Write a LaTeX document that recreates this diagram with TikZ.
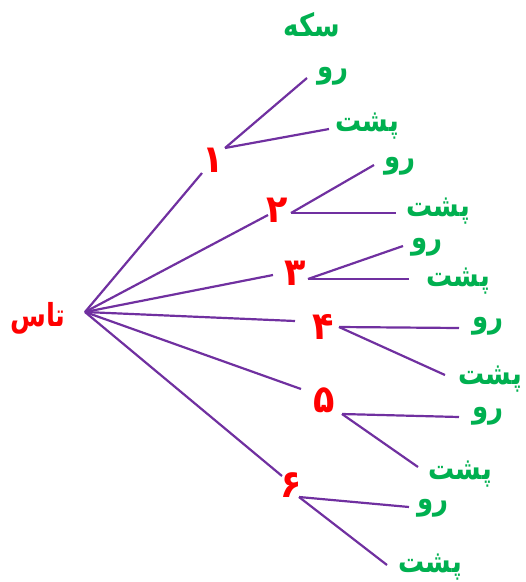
\documentclass[tikz,border=0pt]{standalone}
\usepackage{fontspec}
\usepackage{graphicx}
\newfontfamily\farsi[Script=Arabic]{DejaVu Sans}
\TeXXeTstate=1
\definecolor{leafgreen}{RGB}{0,176,80}
\definecolor{facered}{RGB}{255,0,0}
\definecolor{branchpurple}{RGB}{112,48,160}
\newcommand{\fa}[2][1.22]{\scalebox{1}[#1]{\beginR #2\endR}}

\begin{document}
\begin{tikzpicture}[x=1pt, y=-1pt,
  font=\farsi\bfseries,
  face/.style={text=facered, inner sep=0pt, font=\fontsize{35}{40}\selectfont\farsi\bfseries},
  leaf/.style={text=leafgreen, inner sep=0pt, font=\fontsize{26}{30}\selectfont\farsi\bfseries},
  branch/.style={draw=branchpurple, line width=2.2pt}]
\useasboundingbox (0,0) rectangle (526,582);
% die and coin titles
\node[face, font=\fontsize{26}{30}\selectfont\farsi\bfseries] (die) at (38,318) {\fa{تاس}};
\node[leaf] (coin) at (312,25) {\fa{سکه}};
\coordinate (root) at (85,312);
% die faces
\node[face] (f1) at (213,160) {\fa[1.1]{۱}};
\node[face] (f2) at (277,210) {\fa[1.1]{۲}};
\node[face] (f3) at (295,273) {\fa[1.1]{۳}};
\node[face] (f4) at (323,327) {\fa[1.1]{۴}};
\node[face] (f5) at (324,400) {\fa[1.1]{۵}};
\node[face] (f6) at (291,485) {\fa[1.1]{۶}};
\coordinate (f1in) at (202,173); \coordinate (f1out) at (225,148);
\coordinate (f2in) at (268,215); \coordinate (f2out) at (291,213);
\coordinate (f3in) at (273,275); \coordinate (f3out) at (308,279);
\coordinate (f4in) at (295,321); \coordinate (f4out) at (339,327);
\coordinate (f5in) at (301,389); \coordinate (f5out) at (342,414);
\coordinate (f6in) at (282,476); \coordinate (f6out) at (299,497);
\foreach \f in {1,...,6}
  \draw[branch] (root) -- (f\f in);
% coin sides for each face
\node[leaf] (h1) at (333,76) {\fa{رو}};
\node[leaf] (t1) at (367,126) {\fa{پشت}};
\node[leaf] (h2) at (400,166) {\fa{رو}};
\node[leaf] (t2) at (438,211) {\fa{پشت}};
\node[leaf] (h3) at (427,247) {\fa{رو}};
\node[leaf] (t3) at (458,281) {\fa{پشت}};
\node[leaf] (h4) at (488,326) {\fa{رو}};
\node[leaf] (t4) at (490,379) {\fa{پشت}};
\node[leaf] (h5) at (488,416) {\fa{رو}};
\node[leaf] (t5) at (460,474) {\fa{پشت}};
\node[leaf] (h6) at (433,508) {\fa{رو}};
\node[leaf] (t6) at (430,567) {\fa{پشت}};
\coordinate (h1end) at (307,78);  \coordinate (t1end) at (329,129);
\coordinate (h2end) at (374,165); \coordinate (t2end) at (396,213);
\coordinate (h3end) at (403,246); \coordinate (t3end) at (409,279);
\coordinate (h4end) at (459,328); \coordinate (t4end) at (445,375);
\coordinate (h5end) at (459,417); \coordinate (t5end) at (418,467);
\coordinate (h6end) at (409,507); \coordinate (t6end) at (387,565);
\foreach \f in {1,...,6} {
  \draw[branch] (f\f out) -- (h\f end);
  \draw[branch] (f\f out) -- (t\f end);
}
\end{tikzpicture}
\end{document}
